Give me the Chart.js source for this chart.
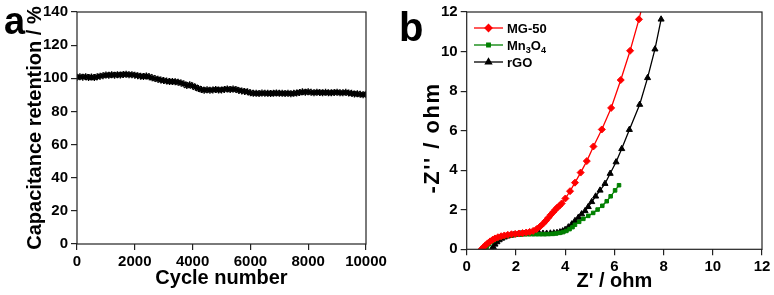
<!DOCTYPE html>
<html><head><meta charset="utf-8">
<script src="https://cdn.jsdelivr.net/npm/chart.js@4.4.0/dist/chart.umd.min.js"></script>
<style>
html,body{margin:0;padding:0;background:#fff;}
#wrap{position:relative;width:774px;height:295px;overflow:hidden;background:#fff;}
canvas{position:absolute;top:0;}
#ca{left:0;} #cb{left:390px;}
</style></head><body>
<div id="wrap">
<canvas id="ca" width="390" height="295"></canvas>
<canvas id="cb" width="384" height="295"></canvas>
</div>
<script>
// ---------- Panel a data ----------
const cycles = [
  0,100,200,300,400,500,600,700,800,900,
  1000,1100,1200,1300,1400,1500,1600,1700,1800,1900,
  2000,2100,2200,2300,2400,2500,2600,2700,2800,2900,
  3000,3100,3200,3300,3400,3500,3600,3700,3800,3900,
  4000,4100,4200,4300,4400,4500,4600,4700,4800,4900,
  5000,5100,5200,5300,5400,5500,5600,5700,5800,5900,
  6000,6100,6200,6300,6400,6500,6600,6700,6800,6900,
  7000,7100,7200,7300,7400,7500,7600,7700,7800,7900,
  8000,8100,8200,8300,8400,8500,8600,8700,8800,8900,
  9000,9100,9200,9300,9400,9500,9600,9700,9800,9900,
  10000];
const retention = [
  100.6,100.9,100.7,101.0,100.5,100.8,100.4,100.9,101.3,101.6,
  102.0,101.8,102.1,101.9,102.2,102.0,102.3,102.4,102.1,102.2,
  101.9,101.6,101.3,101.1,101.4,100.9,100.3,99.8,99.4,99.0,
  98.6,98.3,98.0,98.1,97.9,97.6,97.1,96.6,95.7,96.1,
  95.4,94.6,93.8,93.2,92.8,93.1,92.8,93.0,93.2,92.9,
  93.0,93.3,93.6,93.2,93.5,93.2,92.7,92.4,92.1,91.8,
  91.3,90.9,91.0,90.8,91.1,90.9,91.0,90.8,91.0,91.1,
  90.9,91.0,90.8,91.0,90.7,90.9,91.1,91.4,91.8,91.6,
  91.9,91.5,91.3,91.6,91.4,91.2,91.5,91.3,91.2,91.4,
  91.6,91.2,91.3,91.5,91.1,90.9,90.5,90.7,90.3,90.1,
  90.4];
const cycleTicks = [0,2000,4000,6000,8000,10000];
const retentionTicks = [0,20,40,60,80,100,120,140];

// ---------- Panel b data ----------
const mgX = [0.60,0.68,0.76,0.85,0.95,1.05,1.15,1.27,1.40,1.53,1.67,1.82,1.97,2.12,2.27,2.42,2.56,2.70,2.84,2.98,3.11,3.22,3.32,3.42,3.52,3.60,3.68,3.77,3.86,4.01,4.20,4.40,4.63,4.88,5.15,5.49,5.87,6.26,6.64,7.00,7.30];
const mgY = [0.00,0.10,0.20,0.30,0.40,0.48,0.55,0.61,0.66,0.70,0.73,0.76,0.78,0.80,0.82,0.85,0.88,0.93,1.02,1.15,1.30,1.45,1.60,1.75,1.89,2.00,2.11,2.20,2.32,2.57,2.94,3.37,3.88,4.46,5.20,6.06,7.15,8.56,10.04,11.63,13.10];
const mnX = [0.75,0.82,0.90,0.99,1.09,1.20,1.32,1.45,1.59,1.74,1.90,2.06,2.22,2.38,2.54,2.70,2.86,3.02,3.18,3.34,3.50,3.64,3.78,3.92,4.05,4.18,4.30,4.40,4.57,4.74,4.94,5.14,5.32,5.51,5.69,5.85,6.03,6.19];
const mnY = [0.00,0.13,0.25,0.36,0.45,0.52,0.58,0.63,0.67,0.70,0.72,0.74,0.75,0.76,0.76,0.76,0.76,0.76,0.76,0.77,0.78,0.80,0.83,0.87,0.93,1.02,1.12,1.24,1.39,1.54,1.69,1.84,2.01,2.20,2.43,2.68,2.98,3.24];
const rgoX = [1.02,1.08,1.15,1.23,1.32,1.42,1.53,1.65,1.78,1.92,2.06,2.20,2.35,2.50,2.65,2.80,2.95,3.10,3.25,3.40,3.54,3.67,3.79,3.90,4.00,4.13,4.27,4.40,4.54,4.67,4.81,4.94,5.08,5.24,5.42,5.62,5.83,6.07,6.30,6.61,7.03,7.35,7.65,7.90];
const rgoY = [0.00,0.12,0.25,0.37,0.47,0.55,0.61,0.66,0.70,0.73,0.75,0.77,0.78,0.79,0.80,0.80,0.80,0.80,0.80,0.81,0.82,0.84,0.87,0.92,0.99,1.12,1.27,1.44,1.61,1.78,1.94,2.15,2.40,2.68,2.98,3.32,3.83,4.41,5.08,6.05,7.32,8.67,10.12,11.63];
const zTicks = [0,2,4,6,8,10,12];
const seriesNames = ['MG-50','Mn\u2083O\u2084','rGO'];
const legendParts = [[['MG-50',0]],[['Mn',0],['3',1],['O',0],['4',1]],[['rGO',0]]];

// ---------- helpers ----------
const FAM = "'Liberation Sans', Arial, Helvetica, sans-serif";
Chart.defaults.font.family = FAM;
Chart.defaults.color = '#000';
const toPts = (xs, ys) => xs.map((x, i) => ({x: x, y: ys[i]}));
const setTicks = arr => (scale) => { scale.ticks = arr.map(v => ({value: v})); };
const plainLabel = v => String(v);

const framePlugin = {
  id: 'frame',
  afterDraw(chart) {
    const {ctx, chartArea: a} = chart;
    ctx.save();
    ctx.strokeStyle = '#222';
    ctx.lineWidth = 1.2;
    ctx.strokeRect(a.left, a.top, a.right - a.left, a.bottom - a.top);
    ctx.restore();
  }
};
const panelLabel = {
  id: 'panelLabel',
  afterDraw(chart, args, opts) {
    const ctx = chart.ctx;
    ctx.save();
    ctx.fillStyle = '#000';
    ctx.font = 'bold ' + opts.size + 'px ' + FAM;
    ctx.textBaseline = 'alphabetic';
    ctx.textAlign = 'left';
    ctx.fillText(opts.text, opts.x, opts.y);
    ctx.restore();
  }
};
const vTitle = {
  id: 'vTitle',
  afterDraw(chart, args, opts) {
    if (!opts.text) return;
    const ctx = chart.ctx;
    ctx.save();
    ctx.translate(opts.x, opts.y);
    ctx.rotate(-Math.PI / 2);
    ctx.fillStyle = '#000';
    ctx.font = 'bold ' + opts.size + 'px ' + FAM;
    if ('letterSpacing' in ctx) ctx.letterSpacing = opts.spacing + 'px';
    ctx.textAlign = 'center';
    ctx.textBaseline = 'middle';
    ctx.fillText(opts.text, 0, 0);
    ctx.restore();
  }
};
const legendB = {
  id: 'legendB',
  afterDraw(chart, args, opts) {
    const ctx = chart.ctx;
    ctx.save();
    chart.data.datasets.forEach((ds, i) => {
      const y = opts.y0 + i * opts.dy;
      ctx.strokeStyle = ds.borderColor;
      ctx.lineWidth = ds.borderWidth;
      ctx.beginPath();
      ctx.moveTo(opts.x1, y); ctx.lineTo(opts.x2, y); ctx.stroke();
      ctx.fillStyle = ds.pointBackgroundColor;
      ctx.strokeStyle = ds.borderColor;
      Chart.helpers.drawPoint(ctx, {pointStyle: ds.pointStyle, radius: ds.pointRadius, rotation: 0, borderWidth: 1}, (opts.x1 + opts.x2) / 2, y);
      let x = opts.tx;
      ctx.fillStyle = '#000';
      ctx.textBaseline = 'alphabetic';
      legendParts[i].forEach(([t, sub]) => {
        ctx.font = 'bold ' + (sub ? opts.size * 0.7 : opts.size) + 'px ' + FAM;
        ctx.fillText(t, x, y + opts.size * 0.36 + (sub ? 3 : 0));
        x += ctx.measureText(t).width;
      });
    });
    ctx.restore();
  }
};

const tickFont = {size: 15, weight: 'bold'};
const titleFont = {size: 20, weight: 'bold'};
const gridCfg = {display: true, drawOnChartArea: false, drawTicks: true, tickLength: 6, color: '#222', lineWidth: 1.2};

// ---------- Chart a ----------
new Chart(document.getElementById('ca'), {
  type: 'scatter',
  data: {datasets: [{
    label: 'Capacitance retention',
    data: toPts(cycles, retention),
    showLine: true,
    borderColor: '#000', backgroundColor: '#000', pointBackgroundColor: '#000',
    borderWidth: 2,
    pointStyle: 'star', pointRadius: 3.5, pointBorderWidth: 1.4
  }]},
  options: {
    responsive: false, animation: false, devicePixelRatio: 1,
    layout: {padding: {top: 11, right: 24, left: 0, bottom: 0}},
    plugins: {legend: {display: false}, tooltip: {enabled: false},
      panelLabel: {text: 'a', x: 4, y: 34, size: 38}},
    scales: {
      x: {type: 'linear', min: 0, max: 10000,
        afterBuildTicks: setTicks(cycleTicks),
        afterFit: s => { s.height = 51; },
        grid: gridCfg, border: {display: false},
        ticks: {font: tickFont, padding: 3, color: '#000', maxRotation: 0, autoSkip: false, callback: plainLabel},
        title: {display: true, text: 'Cycle number', font: titleFont, color: '#000', padding: {top: 0, bottom: 5}}
      },
      y: {type: 'linear', min: 0, max: 140,
        afterBuildTicks: setTicks(retentionTicks),
        afterFit: s => { s.width = 77; },
        grid: gridCfg, border: {display: false},
        ticks: {font: tickFont, padding: 3, color: '#000', callback: plainLabel},
        title: {display: true, text: 'Capacitance retention / %', font: titleFont, color: '#000', padding: {top: 23, bottom: 0}}
      }
    }
  },
  plugins: [framePlugin, panelLabel]
});

// ---------- Chart b ----------
const mkDs = (label, xs, ys, color, style, r) => ({
  label: label, data: toPts(xs, ys), showLine: true,
  borderColor: color, backgroundColor: color, pointBackgroundColor: color,
  borderWidth: 1.3, pointStyle: style, pointRadius: r, pointBorderWidth: 1
});
new Chart(document.getElementById('cb'), {
  type: 'scatter',
  data: {datasets: [
    mkDs(seriesNames[0], mgX, mgY, '#ff0000', 'rectRot', 3.5),
    mkDs(seriesNames[1], mnX, mnY, '#008000', 'rect', 2.5),
    mkDs(seriesNames[2], rgoX, rgoY, '#000000', 'triangle', 3.5)
  ]},
  options: {
    responsive: false, animation: false, devicePixelRatio: 1,
    layout: {padding: {top: 11, right: 12, left: 0, bottom: 0}},
    plugins: {legend: {display: false}, tooltip: {enabled: false},
      panelLabel: {text: 'b', x: 9, y: 41, size: 40},
      vTitle: {text: "-Z'' / ohm", x: 43, y: 138, size: 22, spacing: 1.5},
      legendB: {x1: 84, x2: 113, tx: 117, y0: 28, dy: 17, size: 13}},
    scales: {
      x: {type: 'linear', min: 0, max: 12,
        afterBuildTicks: setTicks(zTicks),
        afterFit: s => { s.height = 45.7; },
        grid: gridCfg, border: {display: false},
        ticks: {font: tickFont, padding: 3, color: '#000', maxRotation: 0, autoSkip: false, callback: plainLabel},
        title: {display: true, text: "Z' / ohm", font: titleFont, color: '#000', padding: {top: 0, bottom: 2}}
      },
      y: {type: 'linear', min: 0, max: 12,
        afterBuildTicks: setTicks(zTicks),
        afterFit: s => { s.width = 76.7; },
        grid: gridCfg, border: {display: false},
        ticks: {font: tickFont, padding: 3, color: '#000', callback: plainLabel},
        title: {display: false, text: "-Z'' / ohm"}
      }
    }
  },
  plugins: [framePlugin, panelLabel, vTitle, legendB]
});
</script>
</body></html>
